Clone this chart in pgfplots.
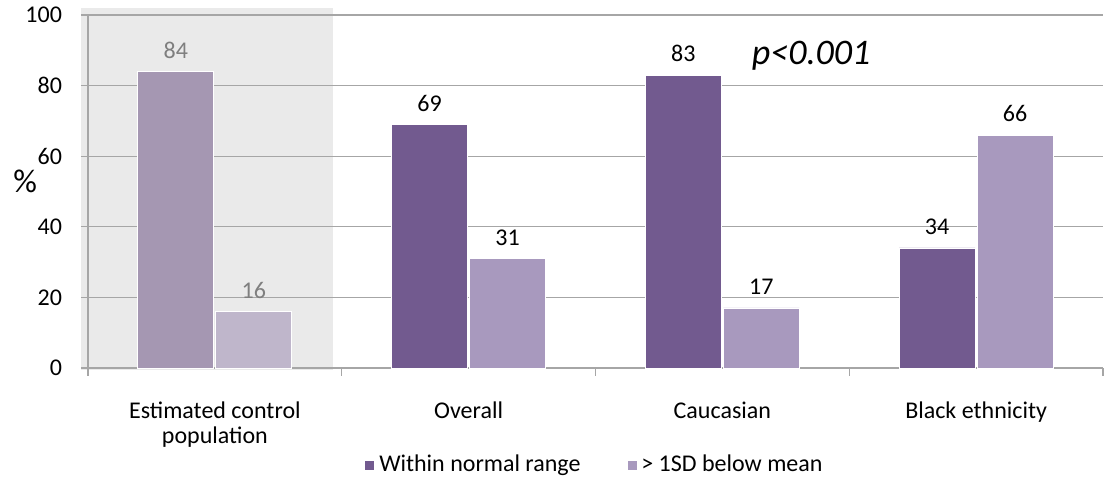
\documentclass[border=0pt]{standalone}
\usepackage{fontspec}
\setmainfont{Carlito}
\usepackage{pgfplots}
\pgfplotsset{compat=1.18}
\definecolor{dk}{HTML}{725A8F}
\definecolor{lt}{HTML}{A899BE}
\definecolor{ga}{HTML}{A597B2}
\definecolor{gb}{HTML}{BFB6CB}
\definecolor{bgshade}{HTML}{EAEAEA}
\definecolor{gridc}{HTML}{A6A6A6}
\definecolor{lblgrey}{HTML}{7F7F7F}
\begin{document}
\begin{tikzpicture}
\begin{axis}[
  at={(0,0)}, anchor=south west,
  scale only axis, width=507.5pt, height=176.5pt,
  set layers, clip=false,
  xmin=-0.5, xmax=3.5, ymin=0, ymax=100,
  ytick={0,20,...,100},
  ymajorgrids, grid style={gridc, line width=0.6pt},
  axis x line*=bottom, axis y line*=left,
  axis line style={-, gridc, line width=0.6pt},
  tick align=outside,
  major tick length=3.5pt,
  minor tick length=4pt,
  tick style={gridc, line width=0.6pt},
  xtick={0,1,2,3},
  xticklabels={{Estimated control\\population},{Overall},{Caucasian},{Black ethnicity}},
  major x tick style={draw=none},
  minor xtick={-0.5,0.5,1.5,2.5,3.5},
  xticklabel style={align=center, font=\fontsize{12}{12.5}\selectfont, anchor=north, yshift=-10pt},
  yticklabel style={font=\fontsize{12}{13}\selectfont, xshift=-6pt},
  /pgf/number format/assume math mode=true,
  ylabel={\%},
  ylabel style={rotate=-90, at={(axis description cs:-0.062,0.53)}, anchor=center, font=\fontsize{16.5}{18}\selectfont},
  legend style={at={(axis description cs:0.5,-0.275)}, anchor=center, draw=none, fill=none,
    legend columns=2, font=\fontsize{12}{13}\selectfont,
    /tikz/every even column/.append style={column sep=21pt}},
  legend image code/.code={\fill[#1] (0pt,-2.5pt) rectangle (5pt,2.5pt);},
  nodes near coords style={font=\fontsize{12}{13}\selectfont, anchor=south, yshift=3pt},
]
\begin{pgfonlayer}{axis background}
\fill[bgshade] (axis cs:-0.528,-0.6) rectangle (axis cs:0.4655,102);
\end{pgfonlayer}
\addplot[ybar, bar width=38pt, bar shift=-19.5pt, fill=dk, draw=white, line width=0.4pt,
  nodes near coords, nodes near coords style={text=black, xshift=-19.5pt}] coordinates {(1,69) (2,83) (3,34)};
\addlegendentry{Within normal range}
\addplot[ybar, bar width=38pt, bar shift=19.5pt, fill=lt, draw=white, line width=0.4pt,
  nodes near coords, nodes near coords style={text=black, xshift=19.5pt}] coordinates {(1,31) (2,17) (3,66)};
\addlegendentry{> 1SD below mean}
\addplot[ybar, bar width=38pt, bar shift=-19.5pt, fill=ga, draw=white, line width=0.4pt, forget plot,
  nodes near coords, nodes near coords style={text=lblgrey, xshift=-19.5pt}] coordinates {(0,84)};
\addplot[ybar, bar width=38pt, bar shift=19.5pt, fill=gb, draw=white, line width=0.4pt, forget plot,
  nodes near coords, nodes near coords style={text=lblgrey, xshift=19.5pt}] coordinates {(0,16)};
\node[font=\fontsize{18}{20}\selectfont\itshape] at (axis cs:2.35,88.4) {p<0.001};
\end{axis}
\path (-44pt,-54.5pt) rectangle (511pt,184pt);
\end{tikzpicture}
\end{document}
